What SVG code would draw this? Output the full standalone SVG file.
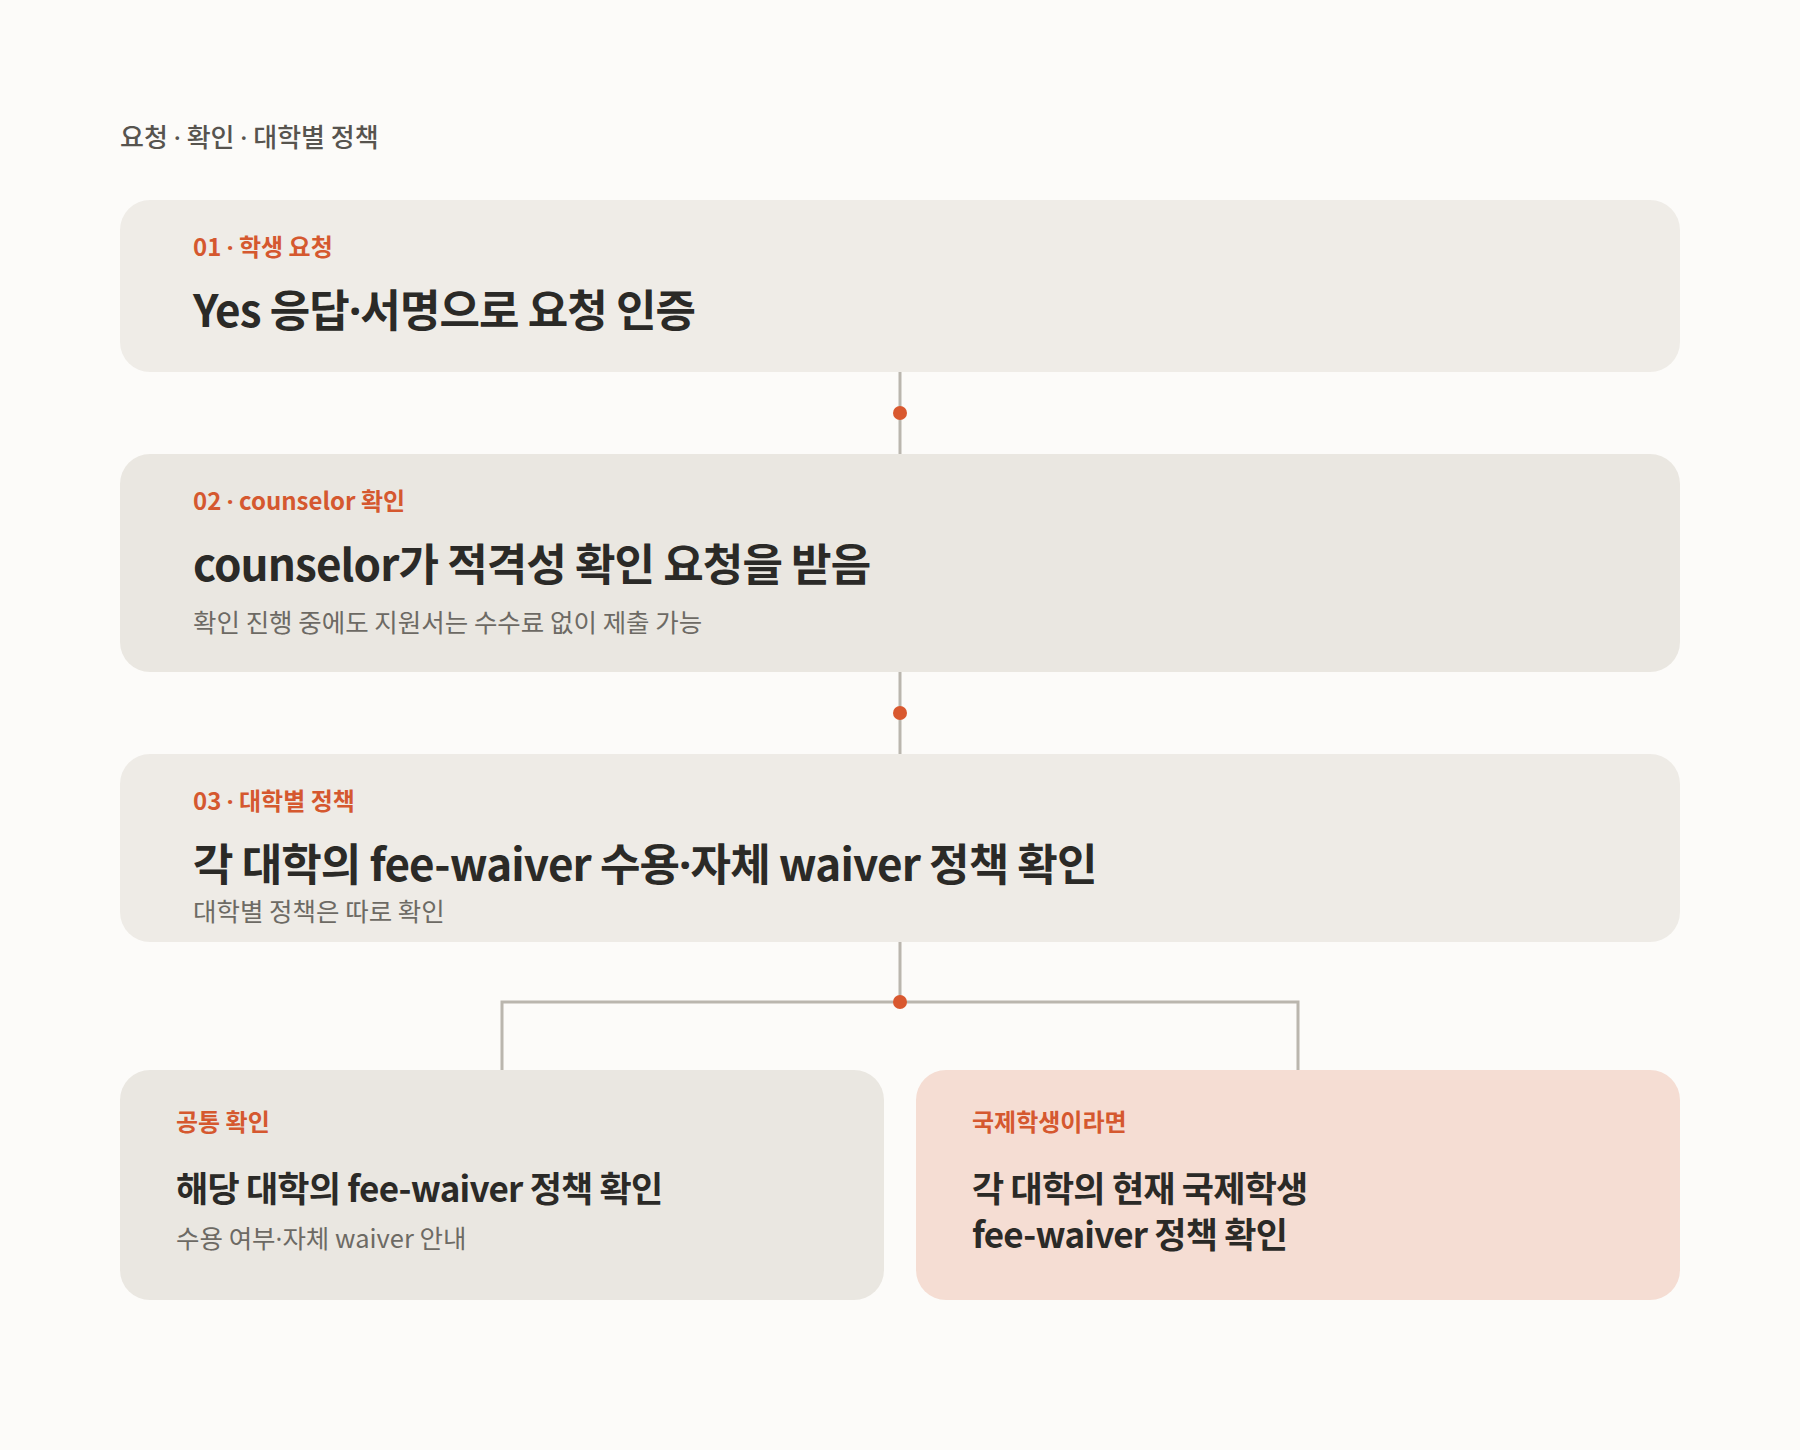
<svg xmlns="http://www.w3.org/2000/svg" width="1800" height="1450" viewBox="0 0 1800 1450">
<style>
text{font-family:"Noto Sans CJK KR","Noto Sans",sans-serif}
.md{font-family:"Noto Sans","Liberation Sans",sans-serif}
.hdr{font-size:26px;fill:#57544f;font-weight:500}
.lbl{font-size:24px;fill:#d5582f;font-weight:700}
.ttl{font-size:44px;fill:#2b2a27;font-weight:700;letter-spacing:-0.9px}
.ttl2{font-size:35px;fill:#2b2a27;font-weight:700;letter-spacing:-0.8px}
.sub{font-size:25.5px;fill:#6d6a64;font-weight:400}
.ln{stroke:#bab6ae;stroke-width:3;fill:none}
.dot{fill:#d9582f}
</style>
<rect width="1800" height="1450" fill="#fcfbf9"/>
<text class="hdr" x="120" y="147">요청 <tspan class="md">·</tspan> 확인 <tspan class="md">·</tspan> 대학별 정책</text>
<g id="connectors">
<line class="ln" x1="900" y1="372" x2="900" y2="454"/>
<line class="ln" x1="900" y1="672" x2="900" y2="754"/>
<path class="ln" d="M900 942V1002M502 1070V1002H1298V1070"/>
<circle class="dot" cx="900" cy="413" r="7"/>
<circle class="dot" cx="900" cy="713" r="7"/>
<circle class="dot" cx="900" cy="1002" r="7"/>
</g>
<g id="n1">
<rect x="120" y="200" width="1560" height="172" rx="30" fill="#efece7"/>
<text class="lbl" x="193" y="256">01 <tspan class="md">·</tspan> 학생 요청</text>
<text class="ttl" x="193" y="327">Yes 응답<tspan class="md">·</tspan>서명으로 요청 인증</text>
</g>
<g id="n2">
<rect x="120" y="454" width="1560" height="218" rx="30" fill="#eae7e1"/>
<text class="lbl" x="193" y="510">02 <tspan class="md">·</tspan> counselor 확인</text>
<text class="ttl" x="193" y="581">counselor가 적격성 확인 요청을 받음</text>
<text class="sub" x="193" y="632">확인 진행 중에도 지원서는 수수료 없이 제출 가능</text>
</g>
<g id="n3">
<rect x="120" y="754" width="1560" height="188" rx="30" fill="#eeebe6"/>
<text class="lbl" x="193" y="810">03 <tspan class="md">·</tspan> 대학별 정책</text>
<text class="ttl" x="193" y="881">각 대학의 fee-waiver 수용<tspan class="md">·</tspan>자체 waiver 정책 확인</text>
<text class="sub" x="193" y="921">대학별 정책은 따로 확인</text>
</g>
<g id="n4">
<rect x="120" y="1070" width="764" height="230" rx="30" fill="#eae7e1"/>
<text class="lbl" x="176" y="1131">공통 확인</text>
<text class="ttl2" x="176" y="1202">해당 대학의 fee-waiver 정책 확인</text>
<text class="sub" x="176" y="1248">수용 여부<tspan class="md">·</tspan>자체 waiver 안내</text>
</g>
<g id="n5">
<rect x="916" y="1070" width="764" height="230" rx="30" fill="#f5ddd3"/>
<text class="lbl" x="972" y="1131">국제학생이라면</text>
<text class="ttl2" x="972" y="1202">각 대학의 현재 국제학생</text>
<text class="ttl2" x="972" y="1248">fee-waiver 정책 확인</text>
</g>
</svg>
